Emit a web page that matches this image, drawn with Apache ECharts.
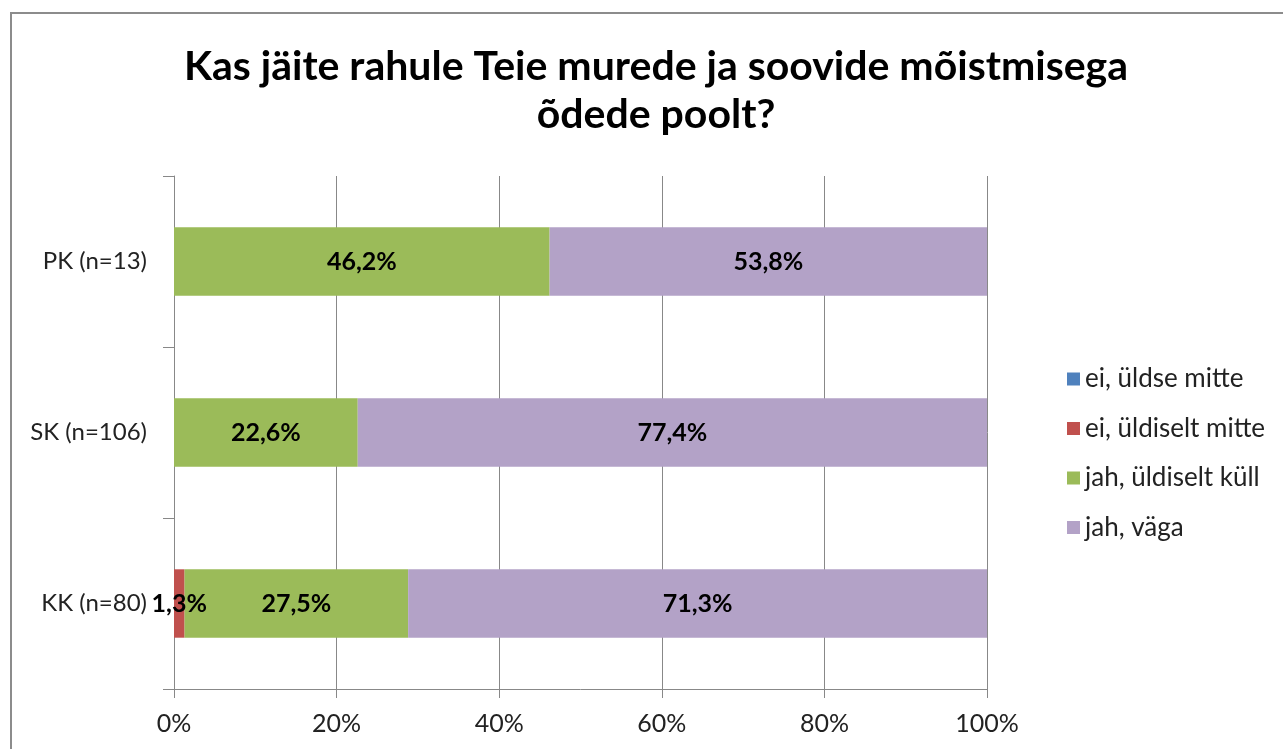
<!DOCTYPE html>
<html>
<head>
<meta charset="utf-8">
<script src="https://cdn.jsdelivr.net/npm/echarts@6/dist/echarts.min.js"></script>
<style>
  html, body { margin: 0; padding: 0; background: #fff; overflow: hidden; }
  #chart { width: 1283px; height: 749px; }
  /* raam ümber diagrammi */
  #frame { position: absolute; left: 10px; top: 12px; width: 1300px; height: 800px;
           border: 2px solid #8c8c8c; pointer-events: none; }
</style>
</head>
<body>
<div id="chart"></div>
<div id="frame"></div>
<script>
// kategooriad ülevalt alla
const categories = ['PK (n=13)', 'SK (n=106)', 'KK (n=80)'];
const seriesNames = ['ei, üldse mitte', 'ei, üldiselt mitte', 'jah, üldiselt küll', 'jah, väga'];
const eiYldseMitte = [0, 0, 0];
const eiYldiseltMitte = [0, 0, 1.3];
const jahYldiseltKyll = [46.2, 22.6, 27.5];
const jahVaga = [53.8, 77.4, 71.3];
const xTicks = [0, 20, 40, 60, 80, 100];
const colors = ['#4F81BD', '#C0504D', '#9BBB59', '#B3A2C7'];

const font = 'Lato, "Open Sans", sans-serif';
const values = [eiYldseMitte, eiYldiseltMitte, jahYldiseltKyll, jahVaga];

const chart = echarts.init(document.getElementById('chart'));
const option = {
    animation: false,
    title: {
        text: 'Kas jäite rahule Teie murede ja soovide mõistmisega\nõdede poolt?',
        left: 651,
        textAlign: 'center',
        top: 38,
        textStyle: { fontFamily: font, fontWeight: 'bold', fontSize: 41, lineHeight: 48, color: '#000' },
    },
    legend: {
        orient: 'vertical',
        left: 1062,
        top: 361,
        itemWidth: 13,
        itemHeight: 13,
        itemGap: 23.5,
        icon: 'rect',
        data: seriesNames,
        textStyle: { fontFamily: font, fontSize: 26, color: '#222' },
    },
    color: colors,
    grid: { left: 174, right: 296, top: 176, bottom: 60 },
    xAxis: {
        type: 'value',
        min: 0,
        max: 100,
        interval: 20,
        axisLine: { show: true, lineStyle: { color: '#888' } },
        axisTick: { show: true, length: 9, lineStyle: { color: '#888' } },
        splitLine: { lineStyle: { color: '#888' } },
        axisLabel: {
            margin: 22,
            fontFamily: font, fontSize: 25, color: '#222',
            formatter: v => xTicks.includes(v) ? v + '%' : '',
        },
    },
    yAxis: {
        type: 'category',
        inverse: true,
        data: categories,
        axisLine: { show: true, lineStyle: { color: '#888' } },
        axisTick: { show: true, length: 11, lineStyle: { color: '#888' } },
        axisLabel: { margin: 27, fontFamily: font, fontSize: 24, color: '#222' },
    },
    series: seriesNames.map((name, i) => ({
        name: name,
        type: 'bar',
        stack: 'kokku',
        barCategoryGap: '60%',
        data: values[i],
        label: {
            show: true,
            position: 'inside',
            fontFamily: font,
            fontWeight: 'bold',
            fontSize: 25,
            color: '#000',
            formatter: p => p.value > 0 ? p.value.toFixed(1).replace('.', ',') + '%' : '',
        },
    })),
};
chart.setOption(option);
window.addEventListener('resize', chart.resize);
</script>
</body>
</html>
